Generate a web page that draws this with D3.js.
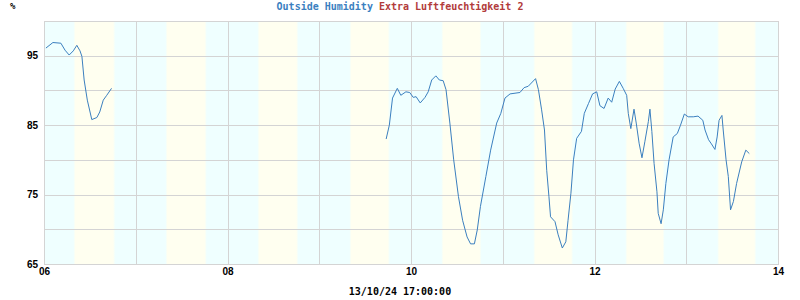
<!DOCTYPE html>
<html>
<head>
<meta charset="utf-8">
<script src="https://cdn.jsdelivr.net/npm/d3@7"></script>
<style>
  body { margin: 0; background: #fff; }
  svg { display: block; }
</style>
</head>
<body>
<div id="chart"></div>
<script>
// Outside Humidity, 6.10.2024 - 13.10.2024 (null = no data)
let times = [
  "2024-10-06 00:30", "2024-10-06 02:20", "2024-10-06 04:25", "2024-10-06 05:30", "2024-10-06 06:35",
  "2024-10-06 07:40", "2024-10-06 08:35", "2024-10-06 09:25", "2024-10-06 09:55", "2024-10-06 10:30",
  "2024-10-06 11:20", "2024-10-06 12:30", "2024-10-06 13:50", "2024-10-06 14:35", "2024-10-06 15:30",
  "2024-10-06 16:25", "2024-10-06 17:40", "2024-10-06 18:30",
  "2024-10-09 17:30", "2024-10-09 18:20", "2024-10-09 19:10", "2024-10-09 20:25", "2024-10-09 21:20",
  "2024-10-09 22:40", "2024-10-09 23:40", "2024-10-10 00:35", "2024-10-10 01:20", "2024-10-10 02:25",
  "2024-10-10 03:40", "2024-10-10 04:30", "2024-10-10 05:25", "2024-10-10 06:30", "2024-10-10 07:25",
  "2024-10-10 08:25", "2024-10-10 09:10", "2024-10-10 10:10", "2024-10-10 11:10", "2024-10-10 12:25",
  "2024-10-10 13:30", "2024-10-10 14:40", "2024-10-10 15:35", "2024-10-10 16:35", "2024-10-10 17:20",
  "2024-10-10 18:10", "2024-10-10 19:35", "2024-10-10 20:50", "2024-10-10 22:25", "2024-10-10 23:30",
  "2024-10-11 00:35", "2024-10-11 01:55", "2024-10-11 04:30", "2024-10-11 05:35", "2024-10-11 06:40",
  "2024-10-11 08:35", "2024-10-11 09:20", "2024-10-11 10:10", "2024-10-11 10:55", "2024-10-11 11:30",
  "2024-10-11 12:05", "2024-10-11 12:30", "2024-10-11 13:40", "2024-10-11 14:30", "2024-10-11 15:35",
  "2024-10-11 16:30", "2024-10-11 17:05", "2024-10-11 17:50", "2024-10-11 18:30", "2024-10-11 19:20",
  "2024-10-11 20:35", "2024-10-11 21:20", "2024-10-11 22:25", "2024-10-11 23:30",
  "2024-10-12 00:35", "2024-10-12 01:25", "2024-10-12 02:30", "2024-10-12 03:35", "2024-10-12 04:30",
  "2024-10-12 05:25", "2024-10-12 06:30", "2024-10-12 07:30", "2024-10-12 08:25", "2024-10-12 08:50",
  "2024-10-12 09:30", "2024-10-12 10:20", "2024-10-12 10:55", "2024-10-12 11:40", "2024-10-12 12:25",
  "2024-10-12 13:10", "2024-10-12 14:05", "2024-10-12 14:30", "2024-10-12 15:00", "2024-10-12 15:35",
  "2024-10-12 16:20", "2024-10-12 16:40", "2024-10-12 17:25", "2024-10-12 18:00", "2024-10-12 18:40",
  "2024-10-12 19:30", "2024-10-12 20:35", "2024-10-12 21:40", "2024-10-12 22:30", "2024-10-12 23:30",
  "2024-10-13 00:30", "2024-10-13 01:50", "2024-10-13 03:05", "2024-10-13 04:20", "2024-10-13 04:55",
  "2024-10-13 05:50", "2024-10-13 06:35", "2024-10-13 07:30", "2024-10-13 08:05", "2024-10-13 08:35",
  "2024-10-13 09:20", "2024-10-13 09:40", "2024-10-13 10:25", "2024-10-13 11:00", "2024-10-13 11:35",
  "2024-10-13 12:20", "2024-10-13 13:10", "2024-10-13 14:30", "2024-10-13 15:35", "2024-10-13 16:30"
];
let outsideHumidity = [
  96.1, 96.9, 96.8, 95.8, 95.1,
  95.7, 96.5, 95.7, 94.9, 91.5,
  88.6, 85.8, 86.1, 86.9, 88.6,
  89.3, 90.3, null,
  83.0, 85.0, 88.9, 90.3, 89.3,
  89.8, 89.7, 89.0, 89.1, 88.2,
  89.0, 89.8, 91.5, 92.1, 91.5,
  91.4, 90.1, 85.3, 80.0, 74.7,
  71.3, 68.9, 67.9, 67.9, 69.9,
  73.3, 77.6, 81.4, 85.3, 86.7,
  88.9, 89.5, 89.7, 90.4, 90.6,
  91.7, 90.1, 87.2, 84.3, 78.5,
  74.7, 71.8, 71.1, 69.2, 67.3,
  68.2, 71.3, 75.2, 80.0, 83.1,
  84.1, 86.7, 88.1, 89.5,
  89.8, 87.8, 87.4, 88.9, 88.3,
  90.2, 91.3, 90.3, 89.3, 86.7,
  84.5, 87.3, 85.3, 82.4, 80.3,
  82.6, 85.5, 87.3, 84.1, 79.5,
  75.4, 72.3, 70.8, 72.8, 76.6,
  80.0, 83.3, 83.8, 85.0, 86.6,
  86.2, 86.2, 86.3, 85.7, 84.3,
  82.9, 82.3, 81.5, 83.3, 85.7,
  86.4, 84.3, 80.0, 77.6, 72.8,
  74.0, 76.6, 79.7, 81.4, 80.9
];
// second sensor has no values in this period
let extraHumidity2 = [];

let days = ["2024-10-06", "2024-10-07", "2024-10-08", "2024-10-09", "2024-10-10", "2024-10-11", "2024-10-12", "2024-10-13"];
let sunrise = ["07:40", "07:45", "07:48", "07:52", "07:55", "07:58", "08:02", "08:05"];
let sunset = ["18:38", "18:35", "18:32", "18:29", "18:26", "18:24", "18:21", "18:18"];

let xTicks = ["2024-10-06", "2024-10-08", "2024-10-10", "2024-10-12", "2024-10-14"];
let yTicks = [65, 75, 85, 95];
let seriesNames = ["Outside Humidity", "Extra Luftfeuchtigkeit 2"];
let seriesColors = ["#3b7fbf", "#b23b3b"];
let unit = "%";
let stamp = "13/10/24 17:00:00";

let W = 800, H = 300;
let margin = { top: 21, right: 22, bottom: 36, left: 44 };
let parse = d3.timeParse("%Y-%m-%d %H:%M");
let parseDay = d3.timeParse("%Y-%m-%d");

let svg = d3.select("#chart")
    .append("svg")
    .attr("width", W)
    .attr("height", H);

let x = d3.scaleTime()
    .domain([parseDay("2024-10-06"), parseDay("2024-10-14")])
    .range([margin.left, W - margin.right]);
let y = d3.scaleLinear()
    .domain([65, 100])
    .range([H - margin.bottom, margin.top]);

// night background, day bands on top
let defs = svg.append("defs");
let grad = defs.append("linearGradient").attr("id", "dayband");
grad.append("stop").attr("offset", "0%").attr("stop-color", "#efffff");
grad.append("stop").attr("offset", "5%").attr("stop-color", "#fffff0");
grad.append("stop").attr("offset", "95%").attr("stop-color", "#fffff0");
grad.append("stop").attr("offset", "100%").attr("stop-color", "#efffff");

svg.append("rect")
    .attr("x", x.range()[0])
    .attr("y", y.range()[1])
    .attr("width", x.range()[1] - x.range()[0])
    .attr("height", y.range()[0] - y.range()[1])
    .style("fill", "#efffff");

svg.selectAll(".day")
    .data(days)
    .enter()
    .append("rect")
    .attr("class", "day")
    .attr("x", (d, i) => x(parse(d + " " + sunrise[i])))
    .attr("y", y.range()[1])
    .attr("width", (d, i) => x(parse(d + " " + sunset[i])) - x(parse(d + " " + sunrise[i])))
    .attr("height", y.range()[0] - y.range()[1])
    .style("fill", "url(#dayband)");

// grid
svg.append("g")
    .attr("transform", "translate(0," + y.range()[0] + ")")
    .call(d3.axisBottom(x).ticks(d3.timeDay.every(1)).tickSize(-(y.range()[0] - y.range()[1])).tickFormat(""));
svg.append("g")
    .attr("transform", "translate(" + x.range()[0] + ",0)")
    .call(d3.axisLeft(y).tickValues(d3.range(65, 101, 5)).tickSize(-(x.range()[1] - x.range()[0])).tickFormat(""));
svg.selectAll(".domain").remove();
svg.selectAll(".tick line")
    .style("stroke", "#d4d4d4")
    .style("shape-rendering", "crispEdges");

// frame
svg.append("rect")
    .attr("x", x.range()[0] + 0.5)
    .attr("y", y.range()[1] + 0.5)
    .attr("width", x.range()[1] - x.range()[0])
    .attr("height", y.range()[0] - y.range()[1])
    .style("fill", "none")
    .style("stroke", "#d4d4d4")
    .style("shape-rendering", "crispEdges");

// data
let pts = times.map((t, i) => ({ t: parse(t), v: outsideHumidity[i] }));
let line = d3.line()
    .defined(d => d.v !== null)
    .x(d => x(d.t))
    .y(d => y(d.v));
svg.append("path")
    .datum(pts)
    .attr("d", line)
    .style("fill", "none")
    .style("stroke", seriesColors[0])
    .style("stroke-width", 1);
svg.append("path")
    .datum(extraHumidity2)
    .attr("d", line)
    .style("fill", "none")
    .style("stroke", seriesColors[1]);

// axis labels
let lbl = "'Liberation Sans', Arial, sans-serif";
let yAxis = svg.append("g")
    .attr("transform", "translate(" + (x.range()[0] - 6) + ",0)")
    .call(d3.axisLeft(y).tickValues(yTicks).tickSize(0).tickPadding(0));
let xAxis = svg.append("g")
    .attr("transform", "translate(0," + (y.range()[0] + 4) + ")")
    .call(d3.axisBottom(x).tickValues(xTicks.map(parseDay)).tickFormat(d3.timeFormat("%d")).tickSize(0).tickPadding(0));
[yAxis, xAxis].forEach(a => {
    a.select(".domain").remove();
    a.selectAll("text")
        .style("font-family", lbl)
        .style("font-weight", "bold")
        .style("font-size", "10px")
        .style("fill", "#000");
});

// titles
let mono = "'DejaVu Sans Mono', 'Liberation Mono', monospace";
let title = svg.append("text")
    .attr("x", W / 2)
    .attr("y", 10)
    .attr("text-anchor", "middle")
    .style("font-family", mono)
    .style("font-weight", "bold")
    .style("font-size", "10px");
seriesNames.forEach((n, i) => {
    title.append("tspan")
        .style("fill", seriesColors[i])
        .text((i ? " " : "") + n);
});
svg.append("text")
    .attr("x", 10)
    .attr("y", 9)
    .style("font-family", mono)
    .style("font-weight", "bold")
    .style("font-size", "9px")
    .text(unit);
svg.append("text")
    .attr("x", W / 2)
    .attr("y", 295)
    .attr("text-anchor", "middle")
    .style("font-family", mono)
    .style("font-weight", "bold")
    .style("font-size", "10px")
    .text(stamp);
</script>
</body>
</html>
